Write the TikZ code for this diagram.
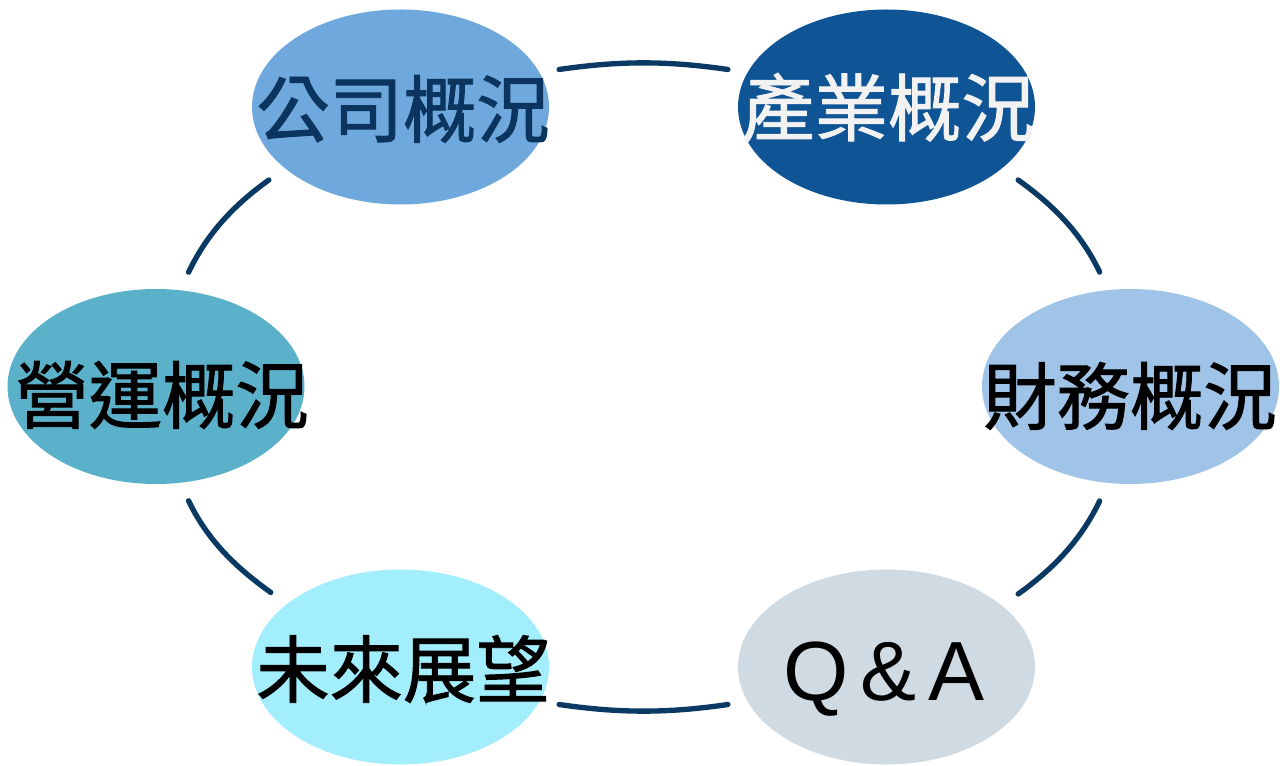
\documentclass[tikz,border=0pt]{standalone}
\usepackage{fontspec}
\newfontfamily\cjk{Noto Sans CJK TC}[FakeBold=1.3]
\newfontfamily\latin{Liberation Sans}
\usetikzlibrary{calc, shapes.geometric}

\definecolor{ring}{RGB}{10,58,100}
\definecolor{gongsiC}{RGB}{111,168,220}
\definecolor{chanyeC}{RGB}{15,85,150}
\definecolor{yingyunC}{RGB}{91,177,202}
\definecolor{caiwuC}{RGB}{160,196,232}
\definecolor{weilaiC}{RGB}{163,238,253}
\definecolor{qaC}{RGB}{207,218,227}
\definecolor{navytext}{RGB}{11,53,94}

\begin{document}
\begin{tikzpicture}[% one unit = one pixel of the slide
         x = 0.75pt, y = 0.75pt,
bubble/.style = {ellipse, fill=#1,
              minimum width=222.75pt, minimum height=146.25pt,
              inner sep=0pt, outer sep=0pt},
title/.style = {inner sep=0pt, font=\cjk\fontsize{55}{60}\selectfont},
link/.style = {draw=ring, line width=4pt, line cap=round,
              shorten <=15pt, shorten >=15pt}
                        ]
	\useasboundingbox (0,0) rectangle (1280,765);

	% the six topics
	\node[bubble=gongsiC]  (gongsi)  at (400.5,658)  {};
	\node[bubble=chanyeC]  (chanye)  at (886.5,658)  {};
	\node[bubble=yingyunC] (yingyun) at (156,378.5)  {};
	\node[bubble=caiwuC]   (caiwu)   at (1130.5,378.5) {};
	\node[bubble=weilaiC]  (weilai)  at (400.5,98)   {};
	\node[bubble=qaC]      (qa)      at (886.5,98)   {};

	% labels (a bit wider than the bubbles)
	\node[title,navytext] (gongsi-t)  at ($(gongsi)+(2.5,-2)$)  {公司概況};
	\node[title,white!95!black] (chanye-t) at ($(chanye)+(1.5,-0.5)$) {產業概況};
	\node[title] (yingyun-t) at ($(yingyun)+(6,-8.5)$) {營運概況};
	\node[title] (caiwu-t)   at ($(caiwu)+(-0.5,-9.5)$) {財務概況};
	\node[title] (weilai-t)  at ($(weilai)+(2.5,-2)$)  {未來展望};
	\node[inner sep=0pt, anchor=base, font=\latin\fontsize{63}{70}\selectfont]
	      (qa-t) at ($(qa)+(-2.5,-33)$) {Q\kern9pt\&\kern9pt A};

	% the ring
	\draw[link] (gongsi.14)     to[out=8.3,    in=171.7] (chanye.166);
	\draw[link] (chanye.-28.1)  to[out=-35.6,  in=115.5] (caiwu.103.6);
	\draw[link] (caiwu.-103.6)  to[out=-115.5, in=35.6]  (qa.28.1);
	\draw[link] (qa.194)        to[out=188.3,  in=-8.3]  (weilai.-14);
	\draw[link] (weilai.151.9)  to[out=144.4,  in=-64.5] (yingyun.-76.4);
	\draw[link] (yingyun.76.4)  to[out=64.5,   in=215.6] (gongsi.208.1);
\end{tikzpicture}
\end{document}
